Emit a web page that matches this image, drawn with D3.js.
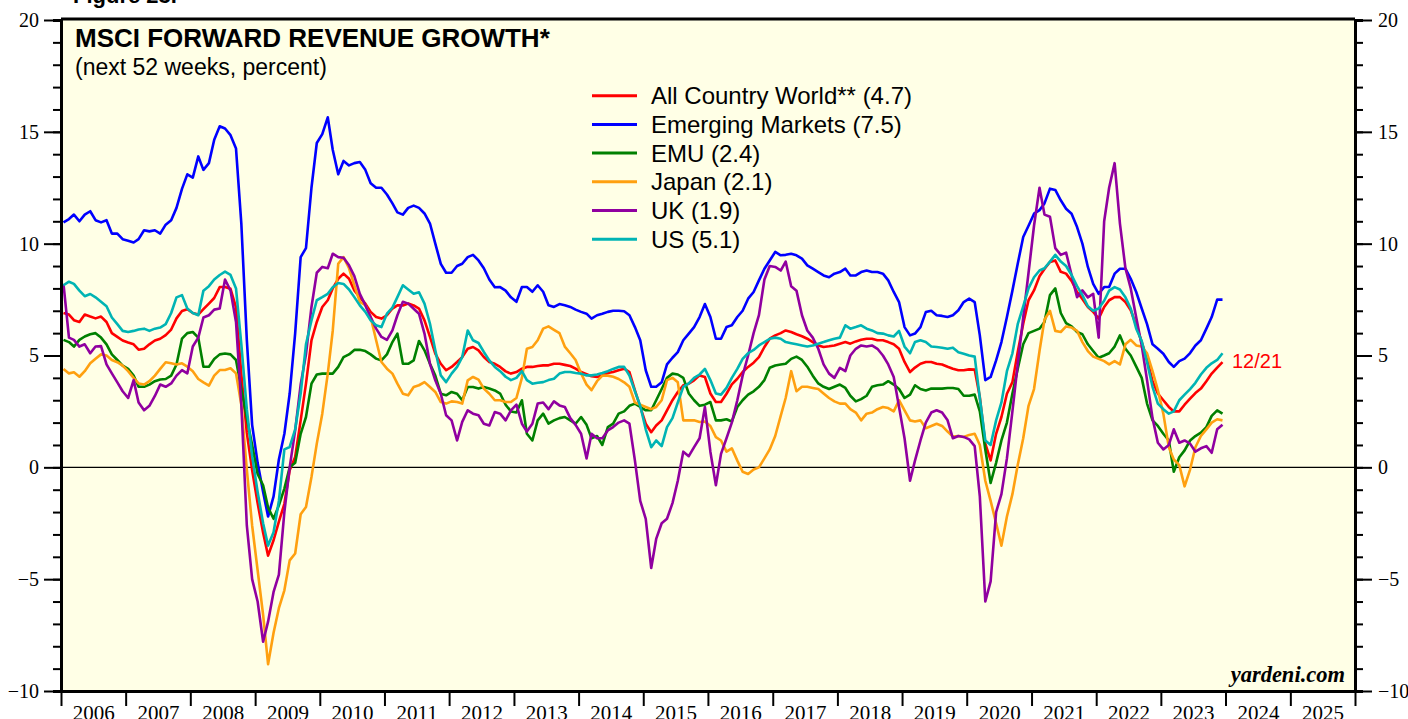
<!DOCTYPE html>
<html>
<head>
<meta charset="utf-8">
<script src="https://cdnjs.cloudflare.com/ajax/libs/d3/7.8.5/d3.min.js"></script>
<style>
  body { margin: 0; background: #ffffff; }
  svg { display: block; }
</style>
</head>
<body>
<svg width="1408" height="719"></svg>
<script>
// monthly readings, Jan 2006 .. Dec 2023 (one row = one year)
var acwi = [
  6.9, 6.83, 6.58, 6.5, 6.83, 6.74, 6.66, 6.74, 6.5, 6.0, 5.83, 5.67,
  5.58, 5.5, 5.26, 5.3, 5.5, 5.67, 5.75, 5.91, 6.16, 6.66, 6.99, 7.07,
  6.9, 6.83, 7.07, 7.32, 7.57, 8.06, 8.06, 7.98, 7.15, 4.17, 1.54, -0.12,
  -1.6, -2.92, -3.95, -3.26, -2.43, -1.63, -0.13, 0.46, 2.1, 3.74, 5.68, 6.5,
  7.17, 7.47, 8.0, 8.43, 8.66, 8.43, 7.91, 7.6, 7.32, 6.95, 6.72, 6.65,
  6.8, 7.1, 7.24, 7.24, 7.32, 7.24, 7.1, 6.57, 5.83, 5.08, 4.63, 4.34,
  4.49, 4.71, 4.93, 5.3, 5.38, 5.23, 4.93, 4.71, 4.63, 4.49, 4.29, 4.19,
  4.26, 4.41, 4.49, 4.49, 4.53, 4.56, 4.56, 4.63, 4.63, 4.58, 4.53, 4.41,
  4.26, 4.16, 4.07, 4.04, 4.11, 4.22, 4.26, 4.34, 4.41, 4.26, 3.44, 2.7,
  1.95, 1.57, 1.87, 2.1, 2.55, 3.0, 3.37, 3.67, 3.74, 3.89, 4.11, 4.04,
  3.3, 2.92, 2.92, 3.29, 3.71, 3.96, 4.26, 4.49, 4.68, 4.93, 5.38, 5.75,
  5.9, 6.0, 6.12, 6.05, 5.95, 5.86, 5.75, 5.6, 5.45, 5.38, 5.41, 5.45,
  5.53, 5.6, 5.53, 5.63, 5.7, 5.75, 5.75, 5.68, 5.68, 5.6, 5.5, 5.3,
  4.71, 4.26, 4.46, 4.63, 4.71, 4.71, 4.63, 4.6, 4.5, 4.41, 4.34, 4.34,
  4.38, 4.37, 3.14, 1.06, 0.31, 1.5, 2.25, 3.29, 3.81, 5.16, 6.42, 7.47,
  7.91, 8.54, 8.87, 9.18, 9.25, 8.74, 8.66, 8.33, 7.84, 7.53, 7.17, 6.95,
  6.65, 7.17, 7.47, 7.61, 7.61, 7.39, 7.02, 6.35, 5.6, 4.85, 3.85, 3.3,
  3.0, 2.7, 2.5, 2.5, 2.8, 3.07, 3.32, 3.52, 3.85, 4.19, 4.46, 4.7
];

var emergingMarkets = [
  10.95, 11.1, 11.3, 11.0, 11.3, 11.45, 11.05, 10.95, 11.05, 10.45, 10.45, 10.2,
  10.13, 10.05, 10.2, 10.6, 10.55, 10.6, 10.45, 10.85, 11.05, 11.6, 12.45, 13.1,
  12.95, 13.9, 13.3, 13.6, 14.65, 15.25, 15.15, 14.85, 14.25, 10.9, 5.7, 1.9,
  0.2, -1.1, -2.2, -1.3, 0.35, 1.5, 3.3, 6.0, 9.4, 9.8, 12.5, 14.5,
  14.9, 15.65, 14.2, 13.1, 13.7, 13.5, 13.6, 13.65, 13.3, 12.7, 12.5, 12.5,
  12.2, 11.8, 11.4, 11.3, 11.6, 11.7, 11.6, 11.35, 10.9, 10.0, 9.1, 8.7,
  8.7, 9.0, 9.1, 9.4, 9.5, 9.25, 8.9, 8.4, 8.05, 8.06, 7.9, 7.6,
  7.4, 8.06, 8.06, 7.85, 8.14, 7.85, 7.25, 7.17, 7.3, 7.25, 7.17, 7.05,
  6.95, 6.87, 6.65, 6.8, 6.87, 6.95, 7.0, 7.0, 6.98, 6.8, 6.27, 5.68,
  4.34, 3.6, 3.6, 3.8, 4.6, 4.9, 5.15, 5.68, 5.98, 6.27, 6.72, 7.3,
  6.72, 5.75, 5.75, 6.27, 6.35, 6.72, 7.0, 7.54, 7.84, 8.36, 8.88, 9.25,
  9.63, 9.48, 9.5, 9.55, 9.48, 9.33, 9.03, 8.88, 8.73, 8.58, 8.5, 8.66,
  8.73, 8.88, 8.58, 8.58, 8.73, 8.8, 8.73, 8.73, 8.66, 8.36, 7.84, 7.39,
  6.27, 5.9, 5.98, 6.27, 6.94, 7.0, 6.8, 6.77, 6.72, 6.8, 7.02, 7.39,
  7.54, 7.39, 5.9, 3.9, 4.04, 4.78, 5.6, 6.72, 7.9, 9.1, 10.3, 10.8,
  11.34, 11.5, 11.8, 12.46, 12.4, 11.94, 11.56, 11.34, 10.74, 10.0, 8.96, 8.2,
  7.76, 8.06, 8.06, 8.66, 8.88, 8.88, 8.43, 7.84, 7.1, 6.4, 5.5, 5.3,
  5.08, 4.71, 4.49, 4.75, 4.86, 5.11, 5.45, 5.68, 6.2, 6.72, 7.5, 7.5
];

var emu = [
  5.7, 5.6, 5.4, 5.7, 5.85, 5.95, 6.0, 5.8, 5.5, 5.05, 4.8, 4.55,
  4.4, 4.1, 3.6, 3.6, 3.7, 3.85, 3.93, 3.95, 4.1, 4.6, 5.75, 6.0,
  6.05, 5.8, 4.5, 4.5, 4.84, 5.05, 5.09, 5.05, 4.8, 3.5, 2.2, 1.0,
  -0.3, -0.8, -1.8, -2.3, -1.7, -0.95, 0.0, 0.2, 1.5, 2.25, 3.74, 4.15,
  4.19, 4.19, 4.19, 4.49, 4.93, 5.05, 5.25, 5.26, 5.2, 5.05, 4.86, 4.78,
  5.05, 5.6, 5.98, 4.63, 4.63, 4.78, 5.65, 5.23, 4.63, 4.1, 3.29, 3.22,
  3.37, 3.29, 3.0, 3.59, 3.59, 3.52, 3.59, 3.52, 3.44, 3.3, 2.8, 2.5,
  2.45, 3.0, 1.5, 1.2, 2.1, 2.4, 1.95, 2.1, 2.2, 2.25, 2.1, 1.95,
  2.25, 1.9, 1.3, 1.4, 1.0, 1.8, 1.95, 2.4, 2.5, 2.75, 2.85, 2.7,
  2.55, 2.55, 3.0, 3.5, 4.0, 4.19, 4.15, 4.0, 3.3, 3.0, 2.75, 2.8,
  2.92, 2.1, 2.1, 2.15, 2.05, 2.7, 3.0, 3.25, 3.4, 3.6, 3.9, 4.45,
  4.55, 4.6, 4.63, 4.85, 4.95, 4.8, 4.5, 4.1, 3.75, 3.6, 3.5, 3.6,
  3.7, 3.55, 3.2, 2.95, 3.05, 3.2, 3.6, 3.67, 3.7, 3.85, 3.7, 3.5,
  3.1, 3.25, 3.67, 3.5, 3.44, 3.52, 3.52, 3.52, 3.55, 3.55, 3.5, 3.2,
  3.2, 3.25, 2.5, 0.8, -0.7, 0.2, 1.2, 2.0, 3.3, 4.4, 5.5, 6.0,
  6.1, 6.2, 6.5, 7.7, 8.0, 6.9, 6.45, 6.3, 6.05, 5.95, 5.5, 5.2,
  4.9, 5.0, 5.1, 5.4, 5.9, 5.3, 5.0, 4.5, 4.0, 2.85, 2.1, 1.85,
  1.5, 1.2, -0.2, 0.45, 0.76, 1.2, 1.4, 1.55, 1.8, 2.3, 2.55, 2.4
];

var japan = [
  4.4, 4.2, 4.25, 4.05, 4.3, 4.65, 4.85, 5.05, 5.0, 4.8, 4.7, 4.55,
  4.3, 4.0, 3.75, 3.7, 3.85, 4.1, 4.4, 4.7, 4.65, 4.6, 4.65, 4.5,
  4.3, 3.95, 3.8, 3.65, 4.1, 4.35, 4.35, 4.43, 4.2, 2.8, -0.1, -2.6,
  -4.6, -6.6, -8.8, -7.4, -6.3, -5.5, -4.16, -3.85, -2.1, -1.77, -0.43, 1.06,
  2.4, 4.19, 6.1, 9.1, 9.4, 8.9, 8.14, 7.4, 7.25, 6.72, 5.68, 4.71,
  4.41, 4.19, 3.74, 3.29, 3.22, 3.59, 3.67, 3.81, 3.59, 3.37, 2.92, 2.85,
  2.95, 2.92, 2.85, 3.89, 4.04, 3.92, 3.52, 3.29, 3.0, 3.0, 2.92, 2.92,
  3.1, 4.0, 5.3, 5.38, 5.68, 6.2, 6.3, 6.15, 6.0, 5.4, 5.1, 4.8,
  4.2, 3.7, 3.45, 3.85, 4.1, 4.1, 4.05, 3.95, 3.8, 3.6, 2.9, 2.8,
  2.7, 2.6, 2.7, 3.0, 3.9, 4.0, 3.8, 2.1, 2.1, 2.1, 2.03, 2.05,
  1.85, 1.35, 1.2, 0.7, 0.85, 0.3, -0.2, -0.3, -0.1, 0.0, 0.4, 0.8,
  1.4, 2.3, 3.1, 4.3, 3.4, 3.6, 3.6, 3.55, 3.5, 3.3, 3.1, 2.95,
  2.85, 2.85, 2.6, 2.45, 2.1, 2.4, 2.45, 2.6, 2.7, 2.65, 2.5, 3.0,
  2.55, 2.1, 2.05, 2.1, 1.75, 1.85, 1.95, 1.85, 1.6, 1.38, 1.4, 1.36,
  1.45, 1.5, 1.0, -0.6, -1.5, -2.5, -3.5, -2.2, -1.2, 0.1, 1.3, 2.75,
  3.5, 5.2, 6.6, 7.0, 6.1, 6.05, 6.3, 6.25, 6.1, 5.6, 5.2, 4.95,
  4.85, 4.75, 4.6, 4.75, 4.6, 5.5, 5.7, 5.45, 5.4, 5.1, 4.3, 3.45,
  2.4, 0.9, 0.35, 0.1, -0.85, -0.1, 0.9, 1.4, 1.7, 2.0, 2.15, 2.1
];

var uk = [
  8.2, 5.8, 5.7, 5.4, 5.5, 5.1, 5.4, 5.42, 4.6, 4.2, 3.8, 3.4,
  3.1, 3.9, 2.9, 2.55, 2.75, 3.19, 3.7, 3.6, 3.75, 4.1, 4.35, 4.2,
  5.4, 5.8, 6.7, 6.8, 7.05, 7.1, 8.4, 7.9, 6.5, 2.8, -2.6, -5.0,
  -6.0, -7.8, -6.9, -5.57, -4.8, -2.0, 0.0, 1.65, 3.7, 5.05, 7.17, 8.7,
  8.96, 8.9, 9.55, 9.4, 9.37, 9.03, 8.55, 7.76, 7.25, 6.72, 6.2, 5.83,
  5.7, 6.12, 6.8, 7.4, 7.32, 7.09, 6.87, 5.98, 4.63, 3.89, 3.29, 2.33,
  2.1, 1.2, 2.03, 2.55, 2.4, 2.33, 1.95, 1.87, 2.47, 2.4, 2.1, 2.55,
  2.8, 1.95, 1.6, 1.95, 2.85, 2.9, 2.6, 2.95, 2.77, 2.7, 2.2, 1.9,
  1.5, 0.4, 1.5, 1.3, 1.3, 1.65, 1.8, 2.0, 2.1, 1.95, 0.3, -1.5,
  -2.3, -4.5, -3.2, -2.5, -2.3, -1.6, -0.6, 0.7, 0.5, 0.9, 1.3, 2.7,
  0.7, -0.8, 0.6, 1.3, 2.0, 3.0, 4.1, 5.0, 6.0, 6.8, 8.4, 9.0,
  8.96, 8.8, 9.2, 8.1, 7.9, 6.8, 6.12, 5.8, 5.3, 4.6, 4.19, 4.0,
  4.45, 4.3, 5.0, 5.3, 5.45, 5.4, 5.45, 5.3, 5.0, 4.6, 4.04, 2.7,
  1.3, -0.6, 0.3, 1.2, 2.0, 2.45, 2.55, 2.45, 2.1, 1.3, 1.4, 1.36,
  1.25, 0.95, -1.3, -6.0, -5.1, -2.0, -1.2, 0.4, 2.5, 4.6, 6.7, 8.7,
  10.8, 12.5, 11.3, 11.2, 9.8, 9.5, 9.6, 8.6, 7.61, 7.91, 7.6, 7.76,
  5.8, 11.0, 12.5, 13.6, 10.9, 8.9, 8.0, 6.7, 5.45, 3.9, 2.2, 1.1,
  0.8, 1.0, 1.7, 1.1, 1.2, 1.06, 0.7, 0.85, 0.95, 0.65, 1.7, 1.9
];

var us = [
  8.14, 8.3, 8.2, 7.9, 7.65, 7.75, 7.6, 7.4, 7.2, 6.7, 6.4, 6.1,
  6.05, 6.1, 6.16, 6.2, 6.1, 6.2, 6.25, 6.4, 6.9, 7.6, 7.7, 7.1,
  6.9, 6.8, 7.9, 8.1, 8.4, 8.6, 8.75, 8.6, 8.0, 5.5, 2.6, 0.5,
  -1.1, -2.5, -3.5, -2.9, -1.5, 0.8, 0.91, 1.7, 3.3, 5.5, 6.57, 7.47,
  7.61, 7.76, 8.05, 8.24, 8.2, 7.95, 7.61, 7.24, 6.95, 6.57, 6.35, 6.27,
  6.87, 7.14, 7.61, 8.14, 7.95, 7.76, 7.83, 7.32, 6.42, 5.23, 4.11, 3.81,
  4.19, 4.49, 4.93, 6.12, 5.68, 5.56, 5.16, 4.78, 4.49, 4.3, 4.05, 3.9,
  4.0, 4.3, 3.9, 3.74, 3.78, 3.81, 3.9, 3.96, 4.19, 4.26, 4.26, 4.22,
  4.19, 4.11, 4.11, 4.15, 4.22, 4.3, 4.4, 4.49, 4.49, 4.1, 3.4, 2.75,
  1.7, 0.9, 1.2, 0.95, 1.8, 2.2, 2.9, 3.6, 3.75, 4.0, 4.15, 4.4,
  3.9, 3.3, 3.25, 3.55, 4.0, 4.4, 4.85, 5.1, 5.25, 5.45, 5.6, 5.75,
  5.8, 5.75, 5.6, 5.55, 5.5, 5.45, 5.4, 5.45, 5.53, 5.6, 5.68, 5.75,
  5.8, 6.35, 6.2, 6.27, 6.35, 6.2, 6.12, 6.0, 5.98, 5.9, 5.85, 6.1,
  5.4, 5.1, 5.6, 5.68, 5.6, 5.4, 5.38, 5.35, 5.3, 5.35, 5.15, 5.08,
  5.0, 4.95, 3.1, 1.2, 1.0, 2.1, 2.9, 4.3, 5.1, 6.4, 7.2, 8.0,
  8.5, 8.8, 8.9, 9.2, 9.5, 9.2, 9.0, 8.6, 8.1, 7.7, 7.2, 7.0,
  7.1, 7.45, 7.9, 8.06, 7.95, 7.6, 7.1, 6.2, 5.65, 4.7, 3.6, 2.85,
  2.6, 2.4, 2.5, 3.0, 3.25, 3.5, 3.78, 4.15, 4.45, 4.65, 4.8, 5.1
];

var seriesNames = ["All Country World** (4.7)", "Emerging Markets (7.5)", "EMU (2.4)",
                   "Japan (2.1)", "UK (1.9)", "US (5.1)"];
var seriesColors = ["#ff0000", "#0000ff", "#008000", "#ffa010", "#9000a0", "#00b4b4"];
var yearLabels = d3.range(2006, 2026);

function createChart() {
    var svg = d3.select("svg"),
        left = 61, right = 1355, top = 20, bottom = 691;

    var months = d3.timeMonth.range(new Date(2006, 0, 1), new Date(2024, 0, 1))
        .map(function(d) { return d3.timeDay.offset(d, 14); });

    var x = d3.scaleTime()
        .domain([new Date(2006, 0, 1), new Date(2026, 0, 1)])
        .range([left, right]);

    var y = d3.scaleLinear()
        .domain([-10, 20])
        .range([bottom, top]);

    svg.append("rect")
        .attr("x", left)
        .attr("y", top)
        .attr("width", right - left)
        .attr("height", bottom - top)
        .attr("fill", "#ffffe6");

    // zero line
    svg.append("line")
        .attr("x1", left).attr("x2", right)
        .attr("y1", y(0)).attr("y2", y(0))
        .attr("stroke", "#000").attr("stroke-width", 1.3);

    var allSeries = [acwi, emergingMarkets, emu, japan, uk, us];

    var line = d3.line()
        .x(function(d, i) { return x(months[i]); })
        .y(function(d) { return y(d); });

    svg.append("g")
        .selectAll("path")
        .data(allSeries)
        .enter().append("path")
        .attr("d", line)
        .attr("fill", "none")
        .attr("stroke", function(d, i) { return seriesColors[i]; })
        .attr("stroke-width", 2.6)
        .attr("stroke-linejoin", "round");

    // y axes, minor + major ticks on both sides
    var minorTicks = d3.range(-10, 21, 1),
        majorTicks = d3.range(-10, 21, 5);

    function styleAxis(g) {
        g.selectAll(".domain").attr("stroke-width", 3);
        g.selectAll(".tick line").attr("stroke-width", 2);
        g.selectAll("text")
            .attr("font-family", "Liberation Serif, Times New Roman, serif")
            .attr("font-size", 20)
            .attr("fill", "#000");
    }

    svg.append("g")
        .attr("transform", "translate(" + left + ",0)")
        .call(d3.axisLeft(y).tickValues(minorTicks).tickSize(8).tickFormat(""))
        .call(styleAxis);
    svg.append("g")
        .attr("transform", "translate(" + left + ",0)")
        .call(d3.axisLeft(y).tickValues(majorTicks).tickSize(17).tickPadding(5).tickSizeOuter(0))
        .call(styleAxis);

    svg.append("g")
        .attr("transform", "translate(" + right + ",0)")
        .call(d3.axisRight(y).tickValues(minorTicks).tickSize(8).tickFormat(""))
        .call(styleAxis);
    svg.append("g")
        .attr("transform", "translate(" + right + ",0)")
        .call(d3.axisRight(y).tickValues(majorTicks).tickSize(17).tickPadding(6).tickSizeOuter(0))
        .call(styleAxis);

    // top border
    svg.append("line")
        .attr("x1", left).attr("x2", right)
        .attr("y1", top - 1).attr("y2", top - 1)
        .attr("stroke", "#000").attr("stroke-width", 3);

    // x axis: ticks at year boundaries, labels in the middle of each year
    var yearStarts = yearLabels.map(function(yr) { return new Date(yr, 0, 1); })
        .concat([new Date(2026, 0, 1)]);

    svg.append("g")
        .attr("transform", "translate(0," + bottom + ")")
        .call(d3.axisBottom(x).tickValues(yearStarts).tickSize(15).tickFormat("").tickSizeOuter(0))
        .call(styleAxis);

    svg.append("g")
        .attr("transform", "translate(0," + bottom + ")")
        .call(d3.axisBottom(x)
            .tickValues(yearLabels.map(function(yr) { return new Date(yr, 6, 2); }))
            .tickSize(0)
            .tickPadding(14)
            .tickFormat(d3.timeFormat("%Y")))
        .call(styleAxis)
        .call(function(g) { g.select(".domain").remove(); })
        .selectAll("text").attr("font-size", 21);

    // titles
    svg.append("text")
        .attr("x", 73).attr("y", 3)
        .attr("font-family", "Liberation Sans, Arial, sans-serif")
        .attr("font-weight", "bold")
        .attr("font-size", 22)
        .text("Figure 23.");

    svg.append("text")
        .attr("x", 75).attr("y", 46.5)
        .attr("font-family", "Liberation Sans, Arial, sans-serif")
        .attr("font-weight", "bold")
        .attr("font-size", 26)
        .text("MSCI FORWARD REVENUE GROWTH*");

    svg.append("text")
        .attr("x", 75).attr("y", 75)
        .attr("font-family", "Liberation Sans, Arial, sans-serif")
        .attr("font-size", 23)
        .text("(next 52 weeks, percent)");

    // legend
    var legend = svg.append("g")
        .selectAll("g")
        .data(seriesNames)
        .enter().append("g")
        .attr("transform", function(d, i) { return "translate(0," + (95.7 + i * 28.7) + ")"; });

    legend.append("line")
        .attr("x1", 592).attr("x2", 637)
        .attr("stroke", function(d, i) { return seriesColors[i]; })
        .attr("stroke-width", 3);

    legend.append("text")
        .attr("x", 651)
        .attr("y", 8.6)
        .attr("font-family", "Liberation Sans, Arial, sans-serif")
        .attr("font-size", 24)
        .text(function(d) { return d; });

    svg.append("text")
        .attr("x", 1232).attr("y", 368)
        .attr("font-family", "Liberation Sans, Arial, sans-serif")
        .attr("font-size", 20)
        .attr("fill", "#ff0000")
        .text("12/21");

    svg.append("text")
        .attr("x", 1345).attr("y", 682)
        .attr("text-anchor", "end")
        .attr("font-family", "Liberation Serif, Times New Roman, serif")
        .attr("font-weight", "bold")
        .attr("font-style", "italic")
        .attr("font-size", 22.5)
        .text("yardeni.com");
}

createChart();
</script>
</body>
</html>
